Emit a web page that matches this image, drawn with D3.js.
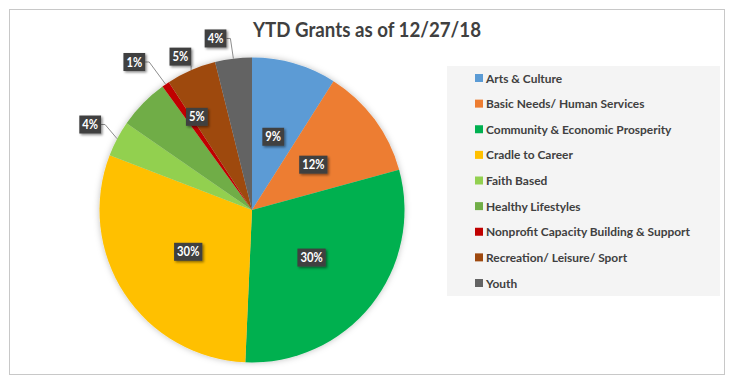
<!DOCTYPE html>
<html><head><meta charset="utf-8">
<script src="https://cdn.jsdelivr.net/npm/d3@7"></script>
<style>html,body{margin:0;padding:0;background:#fff;}</style>
</head><body>
<svg id="chart" width="736" height="390"></svg>
<script>
const title = "YTD Grants as of 12/27/18";
const categories = ["Arts & Culture","Basic Needs/ Human Services","Community & Economic Prosperity","Cradle to Career","Faith Based","Healthy Lifestyles","Nonprofit Capacity Building & Support","Recreation/ Leisure/ Sport","Youth"];
const values = [9.0, 11.8, 30.0, 30.2, 3.8, 5.4, 0.8, 5.3, 3.9];
const labels = ["9%","12%","30%","30%","4%","5%","1%","5%","4%"];
const colors = ["#5B9BD5","#ED7D31","#00B050","#FFC000","#92D050","#70AD47","#C00000","#9E480E","#636363"];

// label layout: radius factor, angle nudge (deg), outside (leader line)
const labelPos = [
  {r:0.5, da:0, out:false},
  {r:0.5, da:0, out:false},
  {r:0.5, da:0, out:false},
  {r:0.5, da:0, out:false},
  {r:1.2, da:0, out:true},
  {r:0.71, da:15, out:false},
  {r:1.24, da:-4, out:true},
  {r:1.11, da:-1.5, out:true},
  {r:1.15, da:-5, out:true}
];

const svg = d3.select("#chart");
const defs = svg.append("defs");
const sh = defs.append("filter").attr("id","pieShadow").attr("x","-20%").attr("y","-20%").attr("width","140%").attr("height","140%");
sh.append("feDropShadow").attr("dx",0).attr("dy",0).attr("stdDeviation",3).attr("flood-color","#000").attr("flood-opacity",0.25);
const bs = defs.append("filter").attr("id","boxShadow").attr("x","-30%").attr("y","-30%").attr("width","160%").attr("height","160%");
bs.append("feDropShadow").attr("dx",1.5).attr("dy",1.5).attr("stdDeviation",1.2).attr("flood-color","#000").attr("flood-opacity",0.45);

// frame
svg.append("rect").attr("x",9.5).attr("y",9.5).attr("width",715).attr("height",365)
  .attr("fill","#fff").attr("stroke","#c8c8c8").attr("stroke-width",1);

// title
const t = svg.append("text").attr("x",367).attr("y",37).attr("text-anchor","middle")
  .attr("font-family","Lato, 'Open Sans', sans-serif").attr("font-weight","bold")
  .attr("font-size",20).attr("fill","#404040").text(title);
const tl = t.node().getComputedTextLength();
t.attr("textLength",228).attr("lengthAdjust","spacingAndGlyphs");

// pie
const cx = 252, cy = 210, R = 152.5;
const pie = d3.pie().sort(null).value(d=>d)(values);
const arc = d3.arc().innerRadius(0).outerRadius(R);
const g = svg.append("g").attr("transform",`translate(${cx},${cy})`);
g.append("g").attr("filter","url(#pieShadow)").selectAll("path").data(pie).enter().append("path")
  .attr("d",arc).attr("fill",(d,i)=>colors[i]);

// labels
const lg = g.append("g");
pie.forEach((d,i)=>{
  const p = labelPos[i];
  const mid = (d.startAngle+d.endAngle)/2;
  const a = mid + p.da*Math.PI/180;
  const x = Math.sin(a)*R*p.r, y = -Math.cos(a)*R*p.r;
  const txt = lg.append("text").attr("x",x).attr("y",y+4.5).attr("text-anchor","middle")
    .attr("font-family","Lato, 'Open Sans', sans-serif").attr("font-weight","bold")
    .attr("font-size",12.5).attr("fill","#fff").text(labels[i]);
  const nat = txt.node().getComputedTextLength();
  txt.attr("textLength", nat*0.9).attr("lengthAdjust","spacingAndGlyphs");
  const bw = nat*0.9+6, bh = 18;
  const bx = x-bw/2, by = y-bh/2;
  if (p.out) {
    const ax = Math.sin(mid)*R, ay = -Math.cos(mid)*R;
    let pts;
    if (ax > bx+bw+1) { pts = [[bx+bw, y],[bx+bw+4,y],[ax,ay]]; }
    else if (ax < bx-1) { pts = [[bx, y],[bx-4,y],[ax,ay]]; }
    else { pts = [[Math.max(bx,Math.min(bx+bw,ax)), by+bh],[ax,ay]]; }
    lg.insert("path","text").attr("d",d3.line()(pts)).attr("fill","none")
      .attr("stroke","#808080").attr("stroke-width",0.9);
  }
  lg.insert("rect","text").attr("x",bx).attr("y",by).attr("width",bw).attr("height",bh)
    .attr("fill","#404040").attr("filter","url(#boxShadow)");
  txt.raise();
});

// legend
const leg = svg.append("g");
leg.append("rect").attr("x",447).attr("y",66).attr("width",273).attr("height",230).attr("fill","#f4f4f4");
const ly = d3.scalePoint().domain(categories).range([78,283]);
const items = leg.selectAll("g.item").data(categories).enter().append("g").attr("class","item");
items.append("rect").attr("x",475).attr("y",d=>ly(d)-4).attr("width",8).attr("height",8)
  .attr("fill",(d,i)=>colors[i]);
const texts = items.append("text").attr("x",486).attr("y",d=>ly(d)+4.5)
  .attr("font-family","Lato, 'Open Sans', sans-serif").attr("font-weight","bold")
  .attr("font-size",12).attr("fill","#404040").text(d=>d);
const longest = texts.nodes()[6].getComputedTextLength();
const k = 204/longest;
texts.each(function(){
  const n = this.getComputedTextLength();
  d3.select(this).attr("textLength", n*k).attr("lengthAdjust","spacingAndGlyphs");
});
</script>
</body></html>
